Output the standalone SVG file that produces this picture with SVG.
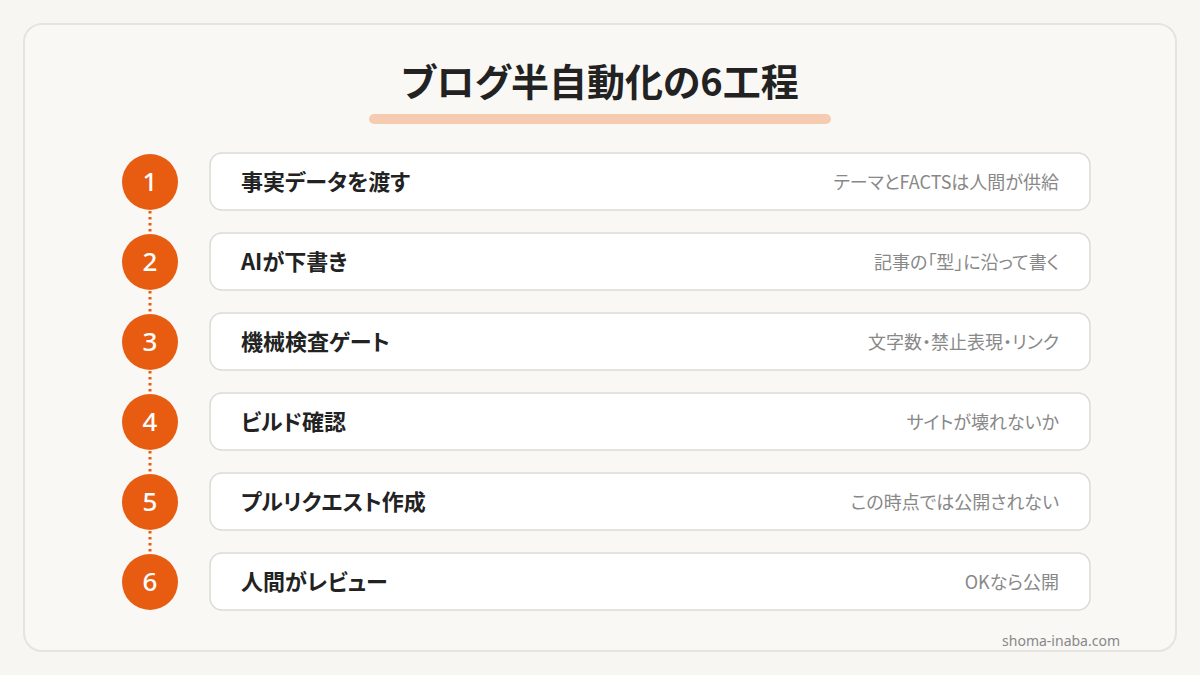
<svg xmlns="http://www.w3.org/2000/svg" width="1200" height="675" viewBox="0 0 1200 675">
<style>
.bg{fill:#f7f6f2}
.panel{fill:#f9f8f4;stroke:#e6e4df;stroke-width:2}
.title{font-family:"Noto Sans CJK JP","Noto Sans",sans-serif;font-weight:700;font-size:38px;fill:#222;font-feature-settings:"palt"}
.box{fill:#ffffff;stroke:#dcdad5;stroke-width:1.5}
.num{fill:#e85c12}
.numt{font-family:"Noto Sans","Noto Sans CJK JP",sans-serif;font-weight:500;font-size:26px;fill:#ffffff;text-anchor:middle}
.lab{font-family:"Noto Sans CJK JP","Noto Sans",sans-serif;font-weight:700;font-size:22px;fill:#222;font-feature-settings:"palt"}
.sub{font-family:"Noto Sans CJK JP","Noto Sans",sans-serif;font-size:18px;fill:#888;text-anchor:end;font-feature-settings:"palt"}
.foot{font-family:"Noto Sans","Noto Sans CJK JP",sans-serif;font-size:14px;fill:#888;text-anchor:end}
.dot{stroke:#e85c12;stroke-width:3;stroke-dasharray:2.5 3.5;fill:none;stroke-linecap:butt}
</style>
<rect class="bg" x="0" y="0" width="1200" height="675"/>
<rect class="panel" x="24" y="24" width="1152" height="627" rx="18"/>
<g id="title">
<text class="title" x="600" y="96" text-anchor="middle">ブログ半自動化の6工程</text>
<rect x="369" y="114" width="462" height="10" rx="5" fill="#f5cbb1"/>
</g>
<g id="connectors">
<line class="dot" x1="150" y1="211" x2="150" y2="233"/>
<line class="dot" x1="150" y1="291" x2="150" y2="313"/>
<line class="dot" x1="150" y1="371" x2="150" y2="393"/>
<line class="dot" x1="150" y1="451" x2="150" y2="473"/>
<line class="dot" x1="150" y1="531" x2="150" y2="553"/>
</g>
<g id="step1">
<circle class="num" cx="150" cy="182" r="28"/>
<text class="numt" x="150" y="191">1</text>
<rect class="box" x="210" y="153" width="880" height="57" rx="12"/>
<text class="lab" x="241" y="190">事実データを渡す</text>
<text class="sub" x="1059" y="189">テーマとFACTSは人間が供給</text>
</g>
<g id="step2">
<circle class="num" cx="150" cy="262" r="28"/>
<text class="numt" x="150" y="271">2</text>
<rect class="box" x="210" y="233" width="880" height="57" rx="12"/>
<text class="lab" x="241" y="270">AIが下書き</text>
<text class="sub" x="1059" y="269">記事の「型」に沿って書く</text>
</g>
<g id="step3">
<circle class="num" cx="150" cy="342" r="28"/>
<text class="numt" x="150" y="351">3</text>
<rect class="box" x="210" y="313" width="880" height="57" rx="12"/>
<text class="lab" x="241" y="350">機械検査ゲート</text>
<text class="sub" x="1059" y="349">文字数・禁止表現・リンク</text>
</g>
<g id="step4">
<circle class="num" cx="150" cy="422" r="28"/>
<text class="numt" x="150" y="431">4</text>
<rect class="box" x="210" y="393" width="880" height="57" rx="12"/>
<text class="lab" x="241" y="430">ビルド確認</text>
<text class="sub" x="1059" y="429">サイトが壊れないか</text>
</g>
<g id="step5">
<circle class="num" cx="150" cy="502" r="28"/>
<text class="numt" x="150" y="511">5</text>
<rect class="box" x="210" y="473" width="880" height="57" rx="12"/>
<text class="lab" x="241" y="510">プルリクエスト作成</text>
<text class="sub" x="1059" y="509">この時点では公開されない</text>
</g>
<g id="step6">
<circle class="num" cx="150" cy="582" r="28"/>
<text class="numt" x="150" y="591">6</text>
<rect class="box" x="210" y="553" width="880" height="57" rx="12"/>
<text class="lab" x="241" y="590">人間がレビュー</text>
<text class="sub" x="1059" y="589">OKなら公開</text>
</g>
<text class="foot" x="1120" y="646">shoma-inaba.com</text>
</svg>
